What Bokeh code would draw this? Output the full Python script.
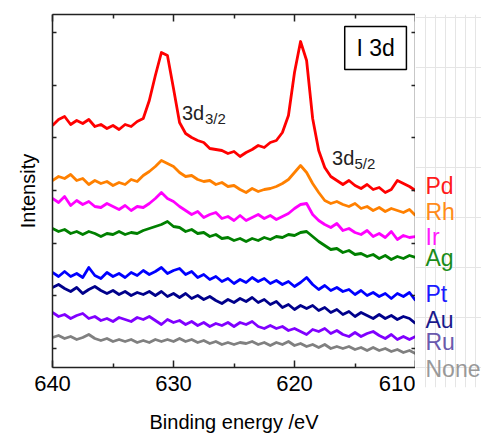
from bokeh.plotting import figure
from bokeh.models import Range1d, LinearAxis, FixedTicker, Label, BoxAnnotation
from bokeh.layouts import row
from bokeh.embed import file_html
from bokeh.resources import INLINE

# Binding energy grid (eV), 640 -> 610 in 0.5 eV steps
energy = [640 - 0.5 * i for i in range(61)]

# Offset intensities (arb. units)
pd_i = [242, 248, 251, 243, 247, 244, 248, 241, 243, 239, 242, 238, 243, 241, 246, 249, 267, 292, 315, 312,
        279, 245, 234, 230, 227, 225, 219, 218, 217, 214, 216, 211, 215, 218, 222, 220, 225, 227, 235, 252,
        295, 326, 307, 249, 217, 200, 191, 187, 183, 187, 182, 179, 183, 178, 180, 175, 178, 187, 184, 181, 177]
rh_i = [187, 191, 189, 193, 187, 189, 183, 187, 184, 186, 182, 185, 183, 188, 186, 192, 196, 201, 207, 204,
        201, 195, 191, 192, 188, 186, 187, 183, 185, 181, 182, 178, 175, 179, 176, 178, 179, 181, 184, 188,
        195, 202, 195, 184, 175, 167, 164, 166, 163, 161, 164, 159, 161, 157, 160, 156, 159, 157, 155, 158, 152]
ir_i = [169, 165, 171, 162, 167, 163, 166, 161, 160, 164, 161, 158, 162, 157, 161, 160, 164, 169, 175, 169,
        166, 161, 157, 153, 156, 150, 153, 155, 149, 151, 147, 152, 147, 150, 153, 149, 152, 148, 151, 154,
        159, 163, 164, 153, 147, 143, 140, 144, 137, 139, 135, 133, 137, 131, 134, 130, 136, 128, 132, 130, 131]
ag_i = [139, 136, 138, 134, 136, 133, 136, 134, 131, 134, 133, 136, 133, 135, 134, 137, 139, 141, 143, 146,
        141, 140, 136, 138, 134, 135, 131, 133, 129, 130, 127, 129, 126, 129, 127, 130, 128, 131, 130, 133,
        132, 135, 136, 131, 126, 122, 118, 119, 115, 117, 113, 114, 111, 113, 109, 112, 108, 111, 109, 112, 110]
pt_i = [95, 91, 96, 91, 94, 90, 100, 92, 89, 95, 91, 94, 90, 95, 92, 97, 93, 96, 100, 94,
        97, 99, 93, 96, 90, 93, 88, 91, 86, 89, 84, 88, 85, 90, 86, 89, 84, 87, 83, 86,
        81, 85, 90, 83, 78, 82, 77, 80, 76, 78, 73, 77, 72, 75, 71, 74, 69, 74, 71, 75, 67]
au_i = [80, 83, 79, 76, 80, 74, 78, 81, 77, 74, 77, 73, 76, 72, 75, 73, 76, 72, 76, 71,
        74, 70, 74, 69, 72, 68, 71, 67, 64, 68, 65, 69, 66, 70, 65, 68, 63, 66, 60, 63,
        58, 62, 59, 62, 57, 60, 55, 58, 53, 56, 51, 55, 52, 49, 53, 49, 52, 48, 51, 49, 44]
ru_i = [55, 51, 53, 49, 52, 54, 49, 51, 47, 49, 46, 50, 48, 46, 50, 48, 51, 47, 43, 48,
        45, 47, 43, 46, 42, 45, 41, 44, 42, 45, 41, 45, 43, 46, 41, 39, 42, 39, 41, 37,
        39, 36, 33, 38, 36, 39, 34, 37, 33, 31, 35, 31, 34, 36, 32, 29, 33, 28, 31, 28, 31]
none_i = [30, 32, 29, 31, 28, 30, 33, 29, 27, 29, 26, 28, 26, 28, 25, 27, 25, 28, 26, 28,
          26, 29, 26, 28, 25, 27, 24, 26, 23, 25, 23, 25, 24, 26, 23, 25, 22, 25, 23, 26,
          22, 24, 21, 23, 20, 23, 19, 21, 19, 21, 18, 20, 17, 20, 17, 19, 16, 18, 15, 17, 14]

names = ["Pd", "Rh", "Ir", "Ag", "Pt", "Au", "Ru", "None"]
series = [pd_i, rh_i, ir_i, ag_i, pt_i, au_i, ru_i, none_i]
line_colors = ["#ff0000", "#ff8000", "#ff00ff", "#008000", "#0000ff", "#00008b", "#8000ff", "#808080"]
label_colors = ["#ff1a1a", "#ff8c1a", "#ff1aff", "#1a8c1a", "#1a1aff", "#1a1a8c", "#6a5aad", "#999999"]
label_y = [182, 156, 131, 110, 74, 48, 26, -1]

x_major = [610, 620, 630, 640]
x_minor = [615, 625, 635]
y_ticks = [19 + 52.7 * k for k in range(7)]

FONT = "Liberation Sans"

p = figure(frame_width=363, frame_height=353, output_backend="svg", toolbar_location=None,
           x_range=Range1d(640, 610), y_range=Range1d(0, 353),
           min_border_left=52, min_border_right=0, min_border_top=14, min_border_bottom=61,
           background_fill_color="white", border_fill_color="white")
p.outline_line_color = None
p.xgrid.visible = False
p.ygrid.visible = False

for vals, col in zip(series, line_colors):
    p.line(energy, vals, line_color=col, line_width=2.8, line_join="round")

def style_x(ax, show_labels):
    ax.ticker = FixedTicker(ticks=x_major, minor_ticks=x_minor)
    ax.axis_line_color = "#222222"
    ax.axis_line_width = 1.5
    ax.major_tick_in = 7
    ax.major_tick_out = 0
    ax.minor_tick_in = 4
    ax.minor_tick_out = 0
    ax.major_tick_line_color = "#222222"
    ax.minor_tick_line_color = "#222222"
    ax.major_tick_line_width = 1.5
    ax.minor_tick_line_width = 1.5
    if show_labels:
        ax.major_label_text_font = FONT
        ax.major_label_text_font_size = "22px"
        ax.major_label_text_color = "black"
        ax.major_label_standoff = 8
    else:
        ax.major_label_text_font_size = "0px"
        ax.major_label_standoff = 0

def style_y(ax):
    ax.ticker = FixedTicker(ticks=y_ticks, minor_ticks=[])
    ax.axis_line_color = "#222222"
    ax.axis_line_width = 1.5
    ax.major_tick_in = 4
    ax.major_tick_out = 0
    ax.minor_tick_in = 0
    ax.minor_tick_out = 0
    ax.major_tick_line_color = "#222222"
    ax.major_tick_line_width = 1.5
    ax.major_label_text_font_size = "0px"
    ax.major_label_standoff = 0

xb = p.xaxis[0]
style_x(xb, True)
xb.axis_label = "Binding energy /eV"
xb.axis_label_text_font = FONT
xb.axis_label_text_font_size = "20px"
xb.axis_label_text_font_style = "normal"
xb.axis_label_text_color = "black"
xb.axis_label_standoff = 17

yl = p.yaxis[0]
style_y(yl)
yl.axis_label = "Intensity"
yl.axis_label_text_font = FONT
yl.axis_label_text_font_size = "20px"
yl.axis_label_text_font_style = "normal"
yl.axis_label_text_color = "black"
yl.axis_label_standoff = 14

xt = LinearAxis()
style_x(xt, False)
p.add_layout(xt, "above")
yr = LinearAxis()
style_y(yr)
p.add_layout(yr, "right")

# Peak annotations
ann = dict(text_font=FONT, text_color="#222222", text_baseline="alphabetic", text_align="left")
p.add_layout(Label(x=629.3, y=255, text="3d", text_font_size="20px", **ann))
p.add_layout(Label(x=627.4, y=249, text="3/2", text_font_size="15px", **ann))
p.add_layout(Label(x=616.9, y=210, text="3d", text_font_size="20px", **ann))
p.add_layout(Label(x=615.05, y=204, text="5/2", text_font_size="15px", **ann))

# "I 3d" box
p.add_layout(BoxAnnotation(left=615.85, right=610.75, bottom=298, top=341,
                           fill_color="white", fill_alpha=1.0,
                           line_color="black", line_alpha=1.0, line_width=1.5))
p.add_layout(Label(x=613.3, y=319.5, text="I 3d", text_font=FONT, text_font_size="23px",
                   text_color="black", text_align="center", text_baseline="middle"))

# Sample labels in a narrow side panel sharing the same vertical scale
side = figure(frame_width=66, frame_height=373, output_backend="svg", toolbar_location=None,
              x_range=Range1d(0, 66), y_range=Range1d(-20, 353),
              x_axis_location=None, y_axis_location=None,
              min_border_left=0, min_border_right=0, min_border_top=14, min_border_bottom=41,
              background_fill_color="white", border_fill_color="white")
side.outline_line_color = None
for name, col, ly in zip(names, label_colors, label_y):
    side.add_layout(Label(x=10, y=ly, text=name, text_color=col, text_font=FONT,
                          text_font_size="23px", text_baseline="alphabetic", text_align="left"))

layout = row(p, side)
open("out.html", "w").write(file_html(layout, INLINE))
